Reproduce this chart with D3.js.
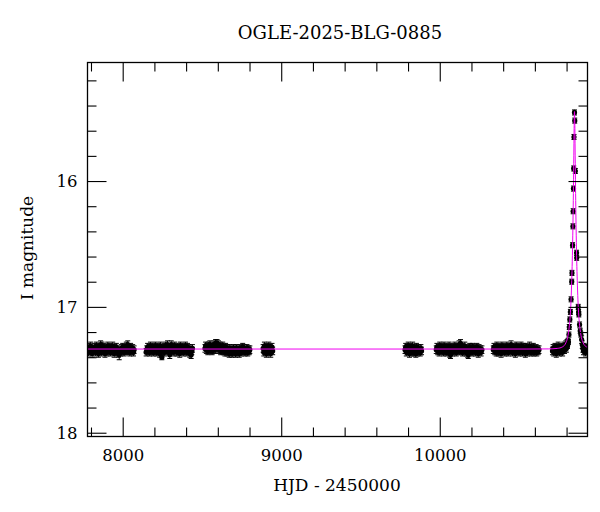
<!DOCTYPE html>
<html>
<head>
<meta charset="utf-8">
<script src="https://cdn.jsdelivr.net/npm/d3@7"></script>
<style>
  html, body { margin: 0; padding: 0; background: #fff; }
  svg { display: block; }
  text { font-family: "DejaVu Serif", serif; fill: #000; }
</style>
</head>
<body>
<svg id="chart" width="600" height="512"></svg>
<script>
// ---------------- DATA ----------------
const title = "OGLE-2025-BLG-0885";
const xLabel = "HJD - 2450000";
const yLabel = "I magnitude";

const xMajorTicks = [8000, 9000, 10000];
const xMinorTicks = [7800, 8200, 8400, 8600, 8800, 9200, 9400, 9600, 9800, 10200, 10400, 10600, 10800];
const yMajorTicks = [16, 17, 18];
const yMinorTicks = [15.2, 15.4, 15.6, 15.8, 16.2, 16.4, 16.6, 16.8, 17.2, 17.4, 17.6, 17.8];

// observations: [HJD-2450000, I mag, error]
const season1 = [[7775,17.34,.03],[7780,17.32,.03],[7784,17.36,.03],[7789,17.33,.02],[7793,17.35,.03],[7798,17.31,.03],[7802,17.34,.03],[7807,17.37,.03],[7811,17.33,.02],[7816,17.35,.03],[7820,17.32,.03],[7825,17.34,.03],[7829,17.36,.03],[7834,17.31,.03],[7838,17.34,.02],[7843,17.33,.03],[7847,17.37,.03],[7852,17.32,.03],[7856,17.35,.03],[7861,17.30,.03],[7865,17.36,.03],[7870,17.31,.03],[7874,17.34,.02],[7879,17.35,.03],[7883,17.32,.03],[7888,17.37,.03],[7892,17.34,.03],[7897,17.33,.03],[7901,17.36,.03],[7906,17.31,.03],[7910,17.34,.03],[7915,17.35,.03],[7919,17.32,.03],[7924,17.36,.03],[7928,17.33,.03],[7933,17.35,.03],[7937,17.31,.03],[7942,17.34,.03],[7946,17.37,.03],[7951,17.33,.03],[7955,17.35,.03],[7960,17.32,.03],[7964,17.36,.03],[7969,17.34,.03],[7973,17.37,.03],[7978,17.38,.04],[7982,17.35,.03],[7987,17.36,.03],[7991,17.33,.03],[7996,17.35,.03],[8000,17.32,.03],[8005,17.34,.03],[8009,17.36,.03],[8014,17.33,.03],[8018,17.35,.03],[8023,17.31,.03],[8027,17.34,.03],[8032,17.30,.03],[8036,17.35,.03],[8041,17.33,.03],[8045,17.36,.03],[8050,17.32,.03],[8054,17.34,.03],[8059,17.35,.03],[8063,17.33,.03],[8068,17.36,.03],[8072,17.34,.03]];
const season2 = [[8148,17.36,.03],[8152,17.34,.03],[8157,17.32,.03],[8161,17.35,.03],[8166,17.33,.03],[8170,17.36,.03],[8175,17.31,.03],[8179,17.34,.03],[8184,17.35,.03],[8188,17.32,.03],[8193,17.36,.03],[8197,17.33,.03],[8202,17.35,.03],[8206,17.31,.03],[8211,17.34,.03],[8215,17.36,.03],[8220,17.32,.03],[8224,17.35,.03],[8229,17.33,.03],[8233,17.37,.03],[8238,17.31,.03],[8243,17.34,.03],[8247,17.40,.02],[8252,17.33,.03],[8256,17.35,.03],[8261,17.32,.03],[8265,17.36,.03],[8270,17.31,.03],[8274,17.34,.03],[8279,17.33,.03],[8283,17.30,.03],[8288,17.35,.03],[8292,17.32,.03],[8297,17.38,.03],[8301,17.33,.03],[8306,17.30,.03],[8310,17.35,.03],[8315,17.32,.03],[8319,17.34,.03],[8324,17.36,.03],[8328,17.31,.03],[8333,17.34,.03],[8337,17.33,.03],[8342,17.36,.03],[8346,17.32,.03],[8351,17.35,.03],[8355,17.33,.03],[8360,17.37,.03],[8364,17.31,.03],[8369,17.34,.03],[8373,17.35,.03],[8378,17.32,.03],[8382,17.36,.03],[8387,17.33,.03],[8391,17.35,.03],[8396,17.31,.03],[8400,17.34,.03],[8405,17.36,.03],[8409,17.32,.03],[8414,17.35,.03],[8418,17.33,.03],[8423,17.37,.03],[8427,17.34,.03],[8432,17.38,.03],[8436,17.35,.03],[8440,17.33,.03]];
const season3 = [[8519,17.33,.03],[8523,17.31,.03],[8528,17.34,.03],[8532,17.32,.03],[8537,17.35,.03],[8541,17.31,.03],[8546,17.33,.03],[8550,17.30,.03],[8555,17.34,.03],[8559,17.32,.03],[8564,17.35,.03],[8568,17.31,.03],[8573,17.33,.03],[8577,17.30,.03],[8582,17.34,.03],[8586,17.29,.03],[8591,17.32,.03],[8595,17.29,.03],[8600,17.33,.03],[8604,17.30,.03],[8609,17.34,.03],[8613,17.31,.03],[8618,17.35,.03],[8622,17.32,.03],[8627,17.34,.03],[8631,17.31,.03],[8636,17.35,.03],[8640,17.33,.03],[8645,17.36,.03],[8649,17.32,.03],[8654,17.34,.03],[8658,17.36,.03],[8663,17.33,.03],[8667,17.35,.03],[8672,17.37,.03],[8676,17.33,.03],[8681,17.36,.03],[8685,17.34,.03],[8690,17.37,.03],[8694,17.35,.03],[8699,17.33,.03],[8703,17.36,.03],[8708,17.34,.03],[8712,17.37,.03],[8717,17.33,.03],[8721,17.35,.03],[8726,17.36,.03],[8730,17.34,.03],[8735,17.37,.03],[8739,17.33,.03],[8744,17.35,.03],[8748,17.36,.03],[8753,17.34,.03],[8757,17.32,.03],[8762,17.35,.03],[8766,17.33,.03],[8771,17.36,.03],[8775,17.34,.03],[8780,17.35,.03],[8784,17.33,.03],[8789,17.36,.03],[8793,17.34,.03],[8798,17.35,.03],[8802,17.34,.03]];
const season4 = [[8886,17.33,.03],[8890,17.36,.03],[8894,17.31,.03],[8898,17.35,.03],[8902,17.33,.03],[8906,17.37,.03],[8910,17.32,.03],[8914,17.34,.03],[8918,17.36,.03],[8922,17.31,.03],[8926,17.35,.03],[8930,17.33,.03],[8934,17.37,.03],[8938,17.34,.03],[8942,17.32,.03],[8946,17.35,.03]];
const season5 = [[9781,17.34,.03],[9785,17.32,.03],[9789,17.36,.03],[9793,17.33,.03],[9797,17.35,.03],[9801,17.31,.03],[9805,17.34,.03],[9809,17.37,.03],[9813,17.32,.03],[9817,17.35,.03],[9821,17.33,.03],[9825,17.36,.03],[9829,17.31,.03],[9833,17.34,.03],[9837,17.36,.03],[9841,17.33,.03],[9845,17.35,.03],[9849,17.37,.03],[9853,17.32,.03],[9857,17.34,.03],[9861,17.36,.03],[9865,17.33,.03],[9869,17.35,.03],[9873,17.34,.03],[9877,17.36,.03],[9881,17.33,.03],[9885,17.35,.03]];
const season6 = [[9978,17.34,.03],[9982,17.32,.03],[9987,17.35,.03],[9991,17.33,.03],[9996,17.36,.03],[10000,17.31,.03],[10005,17.34,.03],[10009,17.32,.03],[10014,17.35,.03],[10018,17.33,.03],[10023,17.36,.03],[10027,17.31,.03],[10032,17.34,.03],[10036,17.35,.03],[10041,17.32,.03],[10045,17.36,.03],[10050,17.33,.03],[10054,17.35,.03],[10059,17.31,.03],[10063,17.37,.03],[10068,17.38,.03],[10072,17.34,.03],[10077,17.32,.03],[10081,17.36,.03],[10086,17.33,.03],[10090,17.35,.03],[10095,17.31,.03],[10099,17.34,.03],[10104,17.36,.03],[10108,17.32,.03],[10113,17.35,.03],[10117,17.33,.03],[10122,17.30,.03],[10126,17.34,.03],[10131,17.29,.03],[10135,17.35,.03],[10140,17.32,.03],[10144,17.36,.03],[10149,17.33,.03],[10153,17.35,.03],[10158,17.31,.03],[10162,17.34,.03],[10167,17.36,.03],[10171,17.33,.03],[10176,17.37,.03],[10180,17.38,.03],[10185,17.34,.03],[10189,17.32,.03],[10194,17.35,.03],[10198,17.33,.03],[10203,17.36,.03],[10207,17.32,.03],[10212,17.34,.03],[10216,17.35,.03],[10221,17.33,.03],[10225,17.36,.03],[10230,17.34,.03],[10234,17.32,.03],[10239,17.35,.03],[10243,17.37,.03],[10248,17.33,.03],[10252,17.35,.03],[10257,17.34,.03],[10261,17.36,.03],[10266,17.34,.03]];
const season7 = [[10338,17.34,.03],[10342,17.32,.03],[10347,17.35,.03],[10351,17.33,.03],[10356,17.36,.03],[10360,17.31,.03],[10365,17.34,.03],[10369,17.36,.03],[10374,17.32,.03],[10378,17.35,.03],[10383,17.33,.03],[10387,17.37,.03],[10392,17.31,.03],[10396,17.34,.03],[10401,17.35,.03],[10405,17.32,.03],[10410,17.36,.03],[10414,17.33,.03],[10419,17.35,.03],[10423,17.31,.03],[10428,17.34,.03],[10432,17.36,.03],[10437,17.32,.03],[10441,17.35,.03],[10446,17.33,.03],[10450,17.30,.03],[10455,17.34,.03],[10459,17.36,.03],[10464,17.32,.03],[10468,17.35,.03],[10473,17.33,.03],[10477,17.37,.03],[10482,17.31,.03],[10486,17.34,.03],[10491,17.35,.03],[10495,17.32,.03],[10500,17.36,.03],[10504,17.33,.03],[10509,17.35,.03],[10513,17.31,.03],[10518,17.34,.03],[10522,17.36,.03],[10527,17.32,.03],[10531,17.35,.03],[10536,17.33,.03],[10540,17.37,.03],[10545,17.32,.03],[10549,17.34,.03],[10554,17.36,.03],[10558,17.33,.03],[10563,17.35,.03],[10567,17.31,.03],[10572,17.34,.03],[10576,17.36,.03],[10581,17.33,.03],[10585,17.35,.03],[10590,17.32,.03],[10594,17.36,.03],[10599,17.34,.03],[10603,17.35,.03],[10608,17.33,.03],[10612,17.36,.03],[10617,17.34,.03],[10621,17.35,.03],[10626,17.34,.03]];
const season8 = [[10711,17.35,.03],[10715,17.33,.03],[10719,17.36,.03],[10723,17.34,.03],[10727,17.32,.03],[10731,17.35,.03],[10735,17.37,.03],[10739,17.33,.03],[10743,17.35,.03],[10747,17.31,.03],[10751,17.34,.03],[10755,17.36,.03],[10759,17.33,.03],[10763,17.35,.03],[10767,17.32,.03],[10771,17.34,.03],[10775,17.36,.03],[10779,17.33,.03],[10783,17.31,.03],[10787,17.34,.03],[10791,17.32,.03],[10795,17.30,.03],[10799,17.33,.03],[10803,17.29,.03],[10806,17.31,.02],[10809,17.27,.02],[10812,17.28,.02],[10815,17.22,.02],
  [10817,17.16,.02],[10820.5,17.10,.02],[10824,17.04,.02],[10828.5,16.94,.02],[10832.5,16.80,.02],[10834,16.73,.02],[10837.8,16.51,.02],[10840,16.36,.02],[10841.5,16.24,.02],[10843.4,16.06,.02],[10845,15.90,.02],[10846.7,15.65,.02],[10850,15.455,.02],[10851.5,15.52,.02],[10855.2,15.92,.02],[10863,16.57,.02],[10863.8,16.61,.02],[10873.5,17.00,.02],[10876,17.04,.02],[10877.5,17.06,.02],[10882,17.14,.02],[10886,17.19,.02],[10890,17.22,.02],[10895,17.26,.03],
  [10899,17.30,.03],[10903,17.33,.03],[10907,17.35,.03],[10911,17.32,.03],[10915,17.34,.03],[10919,17.36,.03],[10923,17.33,.03],[10927,17.35,.03],[10931,17.34,.03],[10935,17.33,.03]];

// microlensing model curve
const modelT = [7700, 10550, 10687, 10741, 10774, 10795.7, 10806.5, 10817.4, 10822.8, 10828.3, 10832.6, 10835.9, 10839.1, 10841.3, 10843.5, 10845.7, 10847.8, 10850, 10852.2, 10854.3, 10856.5, 10858.7, 10860.9, 10864.1, 10867.4, 10871.7, 10877.2, 10882.6, 10893.5, 10904.3, 10926, 10959, 11013, 11100];
const modelM = [17.335, 17.335, 17.334, 17.330, 17.318, 17.285, 17.243, 17.151, 17.074, 16.945, 16.790, 16.637, 16.430, 16.255, 16.044, 15.800, 15.560, 15.448, 15.560, 15.800, 16.044, 16.255, 16.430, 16.637, 16.790, 16.945, 17.074, 17.151, 17.243, 17.285, 17.318, 17.330, 17.334, 17.335];

// ---------------- LAYOUT ----------------
const svg = d3.select("#chart");
const L = 87.5, R = 587.5, T = 62.5, B = 436.5;

const x = d3.scaleLinear().domain([7778, 10932]).range([L, R]);
const y = d3.scaleLinear().domain([15.058, 18.03]).range([T, B]);

svg.append("defs").append("clipPath").attr("id", "clip")
  .append("rect").attr("x", L).attr("y", T).attr("width", R - L).attr("height", B - T);

const obs = [].concat(season1, season2, season3, season4, season5, season6, season7, season8);

const plot = svg.append("g").attr("clip-path", "url(#clip)");

// error bars
const eb = plot.append("g").attr("stroke", "#000").attr("stroke-width", 1);
obs.forEach(d => {
  const cx = x(d[0]), y1 = y(d[1] - d[2]), y2 = y(d[1] + d[2]);
  eb.append("line").attr("x1", cx).attr("x2", cx).attr("y1", y1).attr("y2", y2);
  eb.append("line").attr("x1", cx - 2.5).attr("x2", cx + 2.5).attr("y1", y1).attr("y2", y1);
  eb.append("line").attr("x1", cx - 2.5).attr("x2", cx + 2.5).attr("y1", y2).attr("y2", y2);
});

plot.append("g").selectAll("circle").data(obs).join("circle")
  .attr("cx", d => x(d[0])).attr("cy", d => y(d[1])).attr("r", 2.6).attr("fill", "#000");

// model line
const line = d3.line().x(d => x(d[0])).y(d => y(d[1])).curve(d3.curveMonotoneX);
plot.append("path").datum(modelT.map((t, i) => [t, modelM[i]]))
  .attr("d", line).attr("fill", "none").attr("stroke", "#f000f0").attr("stroke-width", 1.0);

// ---------------- AXES ----------------
const MAJ = 19, MIN = 9;
function styleAxis(g) {
  g.select(".domain").remove();
  g.selectAll(".tick line").attr("stroke", "#000").attr("stroke-width", 1.1);
  g.selectAll(".tick text").style("font-family", "DejaVu Serif").style("font-size", "16.5px").attr("fill", "#000");
}
// bottom
svg.append("g").attr("transform", `translate(0,${B})`)
  .call(d3.axisBottom(x).tickValues(xMajorTicks).tickSize(-MAJ).tickPadding(13).tickFormat(d3.format("d")))
  .call(styleAxis);
svg.append("g").attr("transform", `translate(0,${B})`)
  .call(d3.axisBottom(x).tickValues(xMinorTicks).tickSize(-MIN).tickFormat(""))
  .call(styleAxis);
// top
svg.append("g").attr("transform", `translate(0,${T})`)
  .call(d3.axisTop(x).tickValues(xMajorTicks).tickSize(-MAJ).tickFormat(""))
  .call(styleAxis);
svg.append("g").attr("transform", `translate(0,${T})`)
  .call(d3.axisTop(x).tickValues(xMinorTicks).tickSize(-MIN).tickFormat(""))
  .call(styleAxis);
// left
svg.append("g").attr("transform", `translate(${L},0)`)
  .call(d3.axisLeft(y).tickValues(yMajorTicks).tickSize(-MAJ).tickPadding(10).tickFormat(d3.format("d")))
  .call(styleAxis);
svg.append("g").attr("transform", `translate(${L},0)`)
  .call(d3.axisLeft(y).tickValues(yMinorTicks).tickSize(-MIN).tickFormat(""))
  .call(styleAxis);
// right
svg.append("g").attr("transform", `translate(${R},0)`)
  .call(d3.axisRight(y).tickValues(yMajorTicks).tickSize(-MAJ).tickFormat(""))
  .call(styleAxis);
svg.append("g").attr("transform", `translate(${R},0)`)
  .call(d3.axisRight(y).tickValues(yMinorTicks).tickSize(-MIN).tickFormat(""))
  .call(styleAxis);

// frame
svg.append("rect").attr("x", L).attr("y", T).attr("width", R - L).attr("height", B - T)
  .attr("fill", "none").attr("stroke", "#000").attr("stroke-width", 1.3);

// ---------------- TEXT ----------------
svg.append("text").attr("x", 340).attr("y", 39).attr("text-anchor", "middle")
  .style("font-size", "18px").text(title);
svg.append("text").attr("x", 337).attr("y", 491).attr("text-anchor", "middle")
  .style("font-size", "17px").text(xLabel);
svg.append("text").attr("transform", "translate(33,248) rotate(-90)").attr("text-anchor", "middle")
  .style("font-size", "17px").text(yLabel);
</script>
</body>
</html>
